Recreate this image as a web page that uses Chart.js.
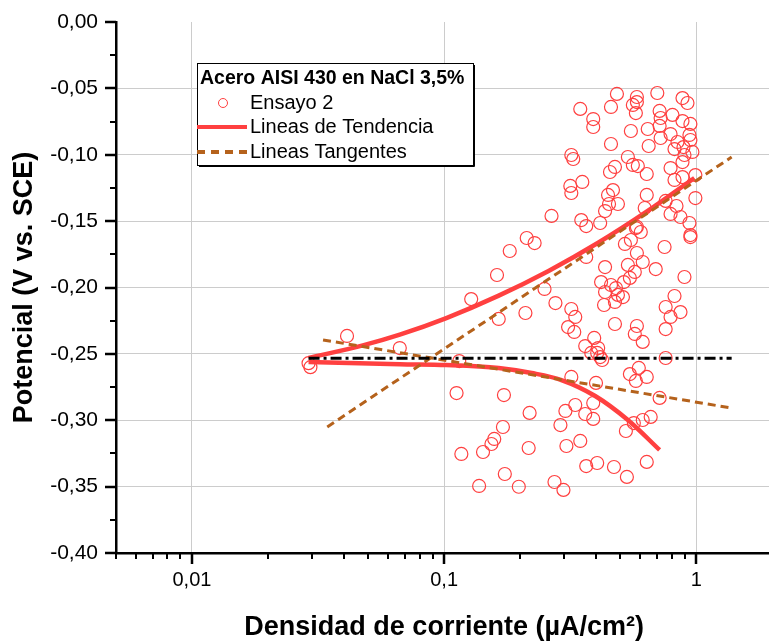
<!DOCTYPE html>
<html>
<head>
<meta charset="utf-8">
<script src="https://cdn.jsdelivr.net/npm/chart.js@4/dist/chart.umd.min.js"></script>
<style>
  html, body { margin: 0; padding: 0; background: #fff; overflow: hidden; }
  #wrap { width: 780px; height: 644px; }
</style>
</head>
<body>
<div id="wrap"><canvas id="chart" width="780" height="644"></canvas></div>
<script>
// Ensayo 2 - current density (uA/cm2) and potential (V vs SCE)
const ensayoX = [
  0.029, 0.0295, 0.0412, 0.0667, 0.1148, 0.112, 0.117, 0.1426, 0.1376, 0.128,
  0.162, 0.1646, 0.182, 0.2125, 0.2284, 0.21, 0.250, 0.2762, 0.3193, 0.331,
  0.31, 0.328, 0.3658, 0.4345, 0.419, 0.4586, 0.4345, 0.480, 0.4886, 0.5115,
  0.4305, 0.4755, 0.516, 0.545, 0.5351, 0.570, 0.581, 0.6128, 0.5208, 0.550,
  0.5756, 0.602, 0.690, 0.748, 0.897, 0.947, 0.819, 0.7555, 0.790, 0.865,
  0.7555, 0.4755, 0.581, 0.570, 0.6128, 0.3935, 0.3625, 0.408, 0.4043, 0.383,
  0.4155, 0.423, 0.7555, 0.545, 0.5913, 0.6357, 0.5756, 0.3193, 0.40, 0.715,
  0.1726, 0.390, 0.331, 0.3025, 0.3625, 0.390, 0.2891, 0.2182, 0.171, 0.158,
  0.154, 0.5255, 0.565, 0.6128, 0.659, 0.2163, 0.3053, 0.3465, 0.3658, 0.4043,
  0.4713, 0.6357, 0.5303, 0.174, 0.1977, 0.2738, 0.2972,
  0.3465, 0.390, 0.390, 0.4586, 0.4842, 0.581, 0.581, 0.560, 0.5756, 0.70,
  0.881, 0.922, 0.715, 0.7215, 0.804, 0.881, 0.947, 0.550, 0.6415, 0.715,
  0.7215, 0.790, 0.8416, 0.9386, 0.947, 0.9644, 0.4586, 0.647, 0.819, 0.889,
  0.3193, 0.325, 0.5351, 0.560, 0.586, 0.897, 0.881, 0.4545, 0.4755, 0.6357,
  0.790, 0.3164, 0.3193, 0.353, 0.991, 0.881, 0.819, 0.467, 0.4465, 0.4886,
  0.4505, 0.6357, 0.991, 0.7555, 0.834, 0.4345, 0.624, 0.2665, 0.3497, 0.3658,
  0.4155, 0.581, 0.790, 0.865, 0.9386, 0.947
];
const ensayoY = [
  -0.257, -0.260, -0.2365, -0.2456, -0.2554, -0.2795, -0.3254, -0.3239, -0.3495, -0.2087,
  -0.1906, -0.2237, -0.1725, -0.1627, -0.1665, -0.2192, -0.2011, -0.2117, -0.2162, -0.2222,
  -0.2298, -0.2335, -0.177, -0.1846, -0.1959, -0.1981, -0.2034, -0.2004, -0.2056, -0.2072,
  -0.2132, -0.2109, -0.1959, -0.1928, -0.183, -0.1883, -0.174, -0.1808, -0.1672, -0.1642,
  -0.1552, -0.1582, -0.1861, -0.1695, -0.1921, -0.162, -0.2064, -0.2147, -0.2222, -0.2185,
  -0.2313, -0.2275, -0.229, -0.235, -0.241, -0.238, -0.2441, -0.2456, -0.2493, -0.2493,
  -0.2524, -0.2546, -0.2531, -0.2652, -0.2606, -0.2674, -0.2704, -0.2674, -0.2719, -0.2832,
  -0.281, -0.287, -0.2885, -0.293, -0.2953, -0.299, -0.3036, -0.2945, -0.3051, -0.3141,
  -0.3179, -0.3081, -0.3021, -0.2998, -0.2975, -0.3209, -0.3194, -0.3156, -0.3345, -0.3322,
  -0.3352, -0.3314, -0.3427, -0.3405, -0.3501, -0.3465, -0.3525,
  -0.0655, -0.0731, -0.0791, -0.064, -0.0542, -0.0565, -0.0603, -0.0625, -0.0686, -0.0535,
  -0.0573, -0.061, -0.067, -0.0723, -0.070, -0.0746, -0.0768, -0.0821, -0.0806, -0.0783,
  -0.0874, -0.0844, -0.0904, -0.0851, -0.0889, -0.0979, -0.0919, -0.0934, -0.0957, -0.0942,
  -0.1002, -0.1032, -0.1017, -0.1077, -0.1085, -0.1002, -0.1055, -0.113, -0.1092, -0.1145,
  -0.110, -0.1235, -0.1288, -0.1205, -0.1153, -0.1168, -0.119, -0.1266, -0.1303, -0.1371,
  -0.1371, -0.1303, -0.1326, -0.1348, -0.1386, -0.1424, -0.1401, -0.1461, -0.1492, -0.1537,
  -0.1514, -0.1544, -0.1446, -0.1469, -0.1514, -0.1605
];

// Lineas de Tendencia (anodic / cathodic branch)
const tendAnodX = [0.029, 0.0476, 0.0667, 0.102, 0.1646, 0.2594, 0.408, 0.6415, 0.982];
const tendAnodY = [-0.2531, -0.2436, -0.2355, -0.2230, -0.2061, -0.1875, -0.1663, -0.1423, -0.1175];
const tendCatX = [0.029, 0.0667, 0.102, 0.1646, 0.2223, 0.2917, 0.397, 0.5351, 0.715];
const tendCatY = [-0.2561, -0.2578, -0.2584, -0.2606, -0.2644, -0.2697, -0.2817, -0.2998, -0.3224];

// Lineas Tangentes
const tangAnodX = [0.0344, 1.38];
const tangAnodY = [-0.305, -0.1017];
const tangCatX = [0.0331, 1.38];
const tangCatY = [-0.2395, -0.2908];

// corrosion potential line
const ecorrX = [0.029, 1.38];
const ecorrY = [-0.2533, -0.2533];

// axis ticks
const xMajorTicks = [0.01, 0.1, 1];
const xMinorTicks = [0.005, 0.006, 0.007, 0.008, 0.009,
  0.02, 0.03, 0.04, 0.05, 0.06, 0.07, 0.08, 0.09,
  0.2, 0.3, 0.4, 0.5, 0.6, 0.7, 0.8, 0.9, 2];
const yMajorTicks = [0, -0.05, -0.10, -0.15, -0.20, -0.25, -0.30, -0.35, -0.40];
const yMinorTicks = [-0.025, -0.075, -0.125, -0.175, -0.225, -0.275, -0.325, -0.375];

const pts = (xs, ys) => xs.map((x, i) => ({x: x, y: ys[i]}));

const RED = '#ff4040';
const BROWN = '#b5621c';
const FONT = "'Liberation Sans', Arial, sans-serif";

const tickMarks = {
  id: 'tickMarks',
  afterDraw(chart) {
    const ctx = chart.ctx, x = chart.scales.x, y = chart.scales.y;
    const area = chart.chartArea;
    ctx.save();
    ctx.strokeStyle = '#000';
    ctx.lineWidth = 2;
    ctx.beginPath();
    xMinorTicks.forEach(v => {
      const p = Math.round(x.getPixelForValue(v));
      ctx.moveTo(p, area.bottom); ctx.lineTo(p, area.bottom + 6);
    });
    yMinorTicks.forEach(v => {
      const p = Math.round(y.getPixelForValue(v));
      ctx.moveTo(area.left, p); ctx.lineTo(area.left - 6, p);
    });
    ctx.stroke();
    ctx.lineWidth = 2.5;
    ctx.beginPath();
    xMajorTicks.forEach(v => {
      const p = Math.round(x.getPixelForValue(v));
      ctx.moveTo(p, area.bottom); ctx.lineTo(p, area.bottom + 11);
    });
    yMajorTicks.forEach(v => {
      const p = Math.round(y.getPixelForValue(v));
      ctx.moveTo(area.left, p); ctx.lineTo(area.left - 11, p);
    });
    ctx.stroke();
    ctx.restore();
  }
};

const boxLegend = {
  id: 'boxLegend',
  afterDraw(chart) {
    const ctx = chart.ctx;
    const bx = 197, by = 63, bw = 276, bh = 102;
    ctx.save();
    ctx.fillStyle = '#fff';
    ctx.fillRect(bx, by, bw, bh);
    ctx.strokeStyle = '#000';
    ctx.lineWidth = 1;
    ctx.strokeRect(bx + 0.5, by + 0.5, bw, bh);
    ctx.beginPath();
    ctx.moveTo(bx + bw + 1.5, by + 2); ctx.lineTo(bx + bw + 1.5, by + bh + 1.5); ctx.lineTo(bx + 2, by + bh + 1.5);
    ctx.stroke();

    ctx.fillStyle = '#000';
    ctx.textBaseline = 'middle';
    ctx.font = 'bold 19.5px ' + FONT;
    ctx.fillText('Acero AISI 430 en NaCl 3,5%', bx + 3, by + 16);

    ctx.font = '20px ' + FONT;
    const rows = [by + 40, by + 64, by + 89];
    // Ensayo 2
    ctx.strokeStyle = RED; ctx.lineWidth = 1;
    ctx.beginPath(); ctx.arc(bx + 26, rows[0], 4.5, 0, Math.PI * 2); ctx.stroke();
    ctx.fillText('Ensayo 2', bx + 53, rows[0]);
    // Lineas de Tendencia
    ctx.strokeStyle = RED; ctx.lineWidth = 4;
    ctx.beginPath(); ctx.moveTo(bx, rows[1]); ctx.lineTo(bx + 50, rows[1]); ctx.stroke();
    ctx.fillText('Lineas de Tendencia', bx + 53, rows[1]);
    // Lineas Tangentes
    ctx.strokeStyle = BROWN; ctx.lineWidth = 4;
    ctx.setLineDash([8, 6]);
    ctx.beginPath(); ctx.moveTo(bx, rows[2]); ctx.lineTo(bx + 52, rows[2]); ctx.stroke();
    ctx.setLineDash([]);
    ctx.fillText('Lineas Tangentes', bx + 53, rows[2]);
    ctx.restore();
  }
};

const lineStyle = (color, width, dash) => ({
  showLine: true, pointRadius: 0, borderColor: color, borderWidth: width,
  borderDash: dash || [], fill: false, backgroundColor: color
});

new Chart(document.getElementById('chart'), {
  type: 'scatter',
  data: {
    datasets: [
      Object.assign({ label: 'Ecorr', data: pts(ecorrX, ecorrY) }, lineStyle('#000', 3, [11, 4, 3, 4])),
      Object.assign({ label: 'Lineas Tangentes', data: pts(tangAnodX, tangAnodY) }, lineStyle(BROWN, 3, [8, 5])),
      Object.assign({ label: 'Lineas Tangentes', data: pts(tangCatX, tangCatY) }, lineStyle(BROWN, 3, [8, 5])),
      Object.assign({ label: 'Lineas de Tendencia', data: pts(tendAnodX, tendAnodY), cubicInterpolationMode: 'monotone' }, lineStyle(RED, 4.5)),
      Object.assign({ label: 'Lineas de Tendencia', data: pts(tendCatX, tendCatY), cubicInterpolationMode: 'monotone' }, lineStyle(RED, 4.5)),
      {
        label: 'Ensayo 2',
        data: pts(ensayoX, ensayoY),
        pointRadius: 6.5,
        pointBorderWidth: 1.2,
        pointBorderColor: RED,
        pointBackgroundColor: 'rgba(0,0,0,0)',
        showLine: false
      }
    ]
  },
  options: {
    responsive: false,
    animation: false,
    layout: { padding: { top: 22, right: 4, left: 0, bottom: 0 } },
    plugins: { legend: { display: false }, tooltip: { enabled: false } },
    scales: {
      x: {
        type: 'logarithmic',
        min: 0.005,
        max: 2,
        afterBuildTicks: s => { s.ticks = xMajorTicks.map(v => ({ value: v })); },
        afterFit: s => { s.height = 91; s.paddingLeft = 0; s.paddingRight = 0; },
        ticks: {
          padding: 15,
          color: '#000',
          font: { family: FONT, size: 20 },
          maxRotation: 0,
          autoSkip: false,
          callback: v => String(v).replace('.', ',')
        },
        grid: { color: '#cccccc', lineWidth: 1, drawTicks: false },
        border: { display: true, color: '#000', width: 2.5 },
        title: {
          display: true,
          text: 'Densidad de corriente (µA/cm²)',
          color: '#000',
          font: { family: FONT, size: 27, weight: 'bold' },
          padding: { top: 0, bottom: 0 }
        }
      },
      y: {
        type: 'linear',
        min: -0.40,
        max: 0,
        afterBuildTicks: s => { s.ticks = yMajorTicks.map(v => ({ value: v })); },
        afterFit: s => { s.width = 116; s.paddingTop = 0; s.paddingBottom = 0; },
        ticks: {
          padding: 18,
          color: '#000',
          font: { family: FONT, size: 21 },
          callback: v => Math.abs(v) < 1e-9 ? '0,00' : v.toFixed(2).replace('.', ',')
        },
        grid: {
          color: c => (c.tick && (Math.abs(c.tick.value) < 1e-9 || Math.abs(c.tick.value + 0.4) < 1e-9)) ? 'rgba(0,0,0,0)' : '#cccccc',
          lineWidth: 1,
          drawTicks: false
        },
        border: { display: true, color: '#000', width: 2.5 },
        title: {
          display: true,
          text: 'Potencial (V vs. SCE)',
          color: '#000',
          font: { family: FONT, size: 27, weight: 'bold' },
          padding: { top: 8, bottom: 0 }
        }
      }
    }
  },
  plugins: [tickMarks, boxLegend]
});
</script>
</body>
</html>
